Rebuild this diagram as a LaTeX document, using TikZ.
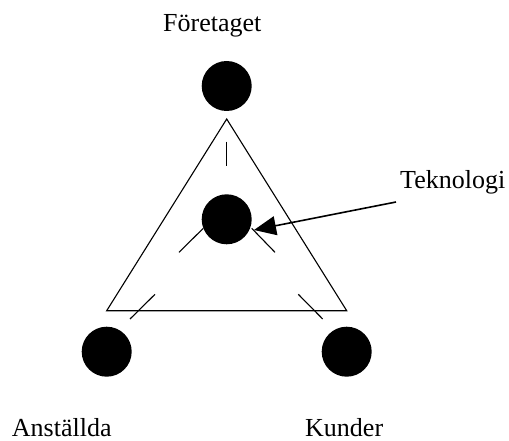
\documentclass[tikz,border=0pt]{standalone}
\usepackage{fontspec}
\setmainfont{Liberation Serif}
\usetikzlibrary{arrows.meta}
\begin{document}
\begin{tikzpicture}[x=1pt,y=-1pt,
  dot/.style={circle,fill=black,draw=none,minimum size=50pt,inner sep=0pt},
  lbl/.style={anchor=base west,inner sep=0pt,font=\fontsize{26}{30}\selectfont},
  thin line/.style={line width=1.1pt},
  pointer/.style={line width=1.6pt,-{Triangle[length=22pt,width=19pt]}}]
\useasboundingbox (0,0) rectangle (509,441);
% dots
\node[dot] (top) at (226.7,86) {};
\node[dot] (mid) at (226.7,219.3) {};
\node[dot] (bl) at (106.7,351.7) {};
\node[dot] (br) at (346.7,351.7) {};
% triangle
\coordinate (apex) at (226.7,119);
\coordinate (tl) at (106.7,310.7);
\coordinate (tr) at (346.7,310.7);
\draw[thin line,line join=miter] (apex) -- (tl) -- (tr) -- cycle;
% ticks
\coordinate (v1) at (226.7,141.7); \coordinate (v2) at (226.7,165.7);
\coordinate (ml1) at (179,252.3); \coordinate (ml2) at (203.3,228.3);
\coordinate (mr1) at (251.7,228.3); \coordinate (mr2) at (275,252.3);
\coordinate (bl1) at (130,319); \coordinate (bl2) at (155,294.3);
\coordinate (br1) at (298.3,294.3); \coordinate (br2) at (322.7,319);
\draw[thin line] (v1) -- (v2);
\draw[thin line] (ml1) -- (ml2);
\draw[thin line] (mr1) -- (mr2);
\draw[thin line] (bl1) -- (bl2);
\draw[thin line] (br1) -- (br2);
% labels
\node[lbl] (lf) at (163,31.7) {Företaget};
\node[lbl] (lt) at (400,189) {Teknologi};
\node[lbl] (la) at (11.7,436) {Anställda};
\node[lbl] (lk) at (305,436) {Kunder};
% arrow
\coordinate (as) at (396,202);
\coordinate (ae) at (254,230);
\draw[pointer] (as) -- (ae);
\end{tikzpicture}
\end{document}
